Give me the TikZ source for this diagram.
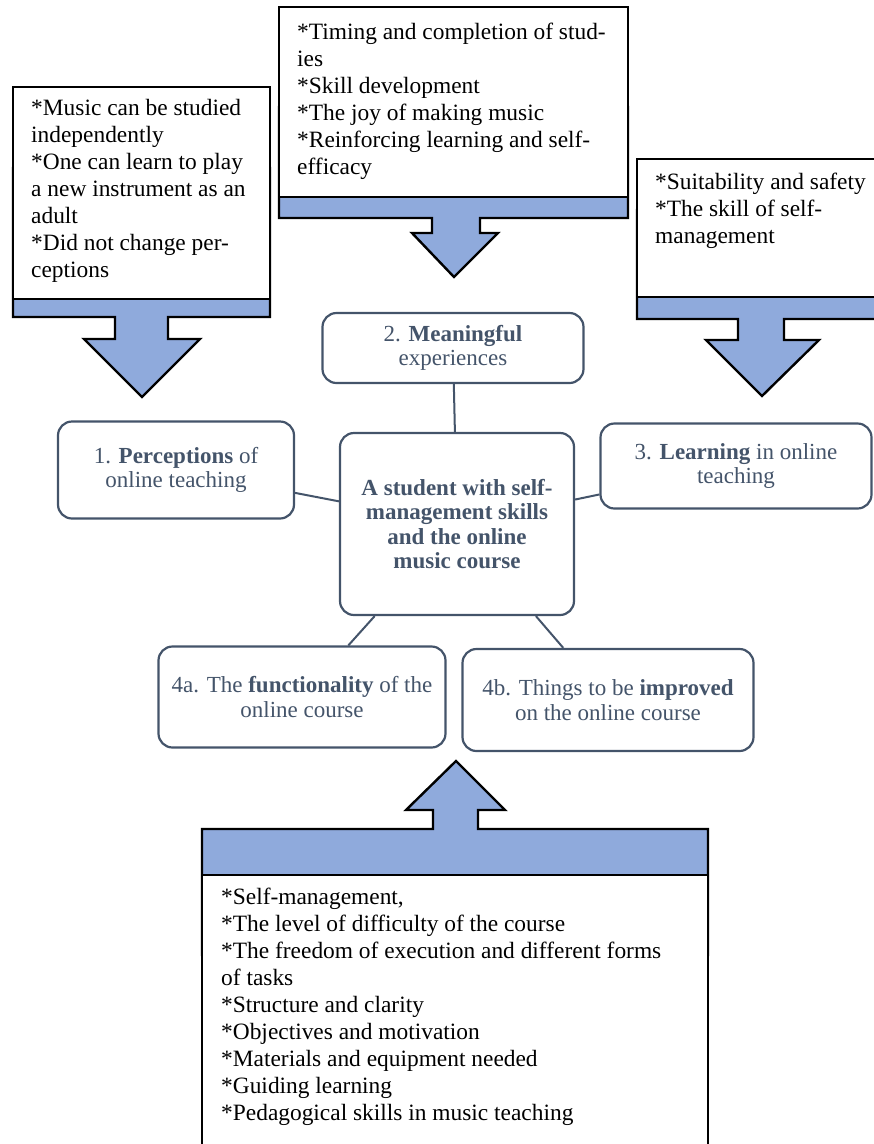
\documentclass[tikz,border=0pt]{standalone}
\usepackage{xcolor}
\usepackage{fontspec}
\setmainfont{Liberation Serif}
\usepackage{tikz}

\definecolor{slate}{RGB}{68,84,106}
\definecolor{arrowblue}{RGB}{143,170,220}

\begin{document}
\begin{tikzpicture}[x=1pt, y=-1pt,
             topic/.style={draw=slate, line width=2.2pt, rounded corners=14pt, fill=white,
                           text=slate, align=center, inner sep=0pt,
                           font=\fontsize{23}{24.5}\selectfont},
             link/.style={draw=slate, line width=2pt},
             blockarrow/.style={fill=arrowblue, draw=black, line width=2.4pt, line join=miter},
             notebox/.style={fill=white, draw=black, line width=1.2pt},
             notetext/.style={anchor=north west, align=left, inner sep=0pt,
                              font=\fontsize{23.4}{27}\selectfont}]
             \useasboundingbox (0,0) rectangle (874,1144);
             \clip (0,0) rectangle (874,1144);

             \draw[blockarrow] (13,168)--(270,168)--(270,317)--(168,317)--(168,339)--(200,339)
                  --(142,397)--(84,339)--(115,339)--(115,317)--(13,317)--cycle;
             \draw[notebox] (13,87) rectangle (270,299);
             \node[notetext] (percnotes) at (31,99) {*Music can be studied\\independently\\*One can learn to play\\a new instrument as an\\adult\\*Did not change per-\\ceptions};

             \draw[blockarrow] (279,107)--(628,107)--(628,218)--(480,218)--(480,233)--(498,233)
                  --(454,277)--(412,233)--(432,233)--(432,218)--(279,218)--cycle;
             \draw[notebox] (279,7) rectangle (628,197);
             \node[notetext] (meannotes) at (297,23) {*Timing and completion of stud-\\ies\\*Skill development\\*The joy of making music\\*Reinforcing learning and self-\\efficacy};

             \draw[blockarrow] (637,210)--(890,210)--(890,319)--(784,319)--(784,340)--(819,340)
                  --(762,396)--(706,340)--(738,340)--(738,319)--(637,319)--cycle;
             \draw[notebox] (637,159) rectangle (890,297);
             \node[notetext] (learnnotes) at (655,173) {*Suitability and safety\\*The skill of self-\\management};

             \draw[blockarrow] (202,955)--(202,829)--(433,829)--(433,810)--(406,810)--(456,761)
                  --(505,810)--(478,810)--(478,829)--(708,829)--(708,955)--cycle;
             \draw[notebox] (202,875) rectangle (708,1170);
             \node[notetext] (improvenotes) at (221,888) {*Self-management,\\*The level of difficulty of the course\\*The freedom of execution and different forms\\of tasks\\*Structure and clarity\\*Objectives and motivation\\*Materials and equipment needed\\*Guiding learning\\*Pedagogical skills in music teaching};

             \node[topic, minimum width=234pt, minimum height=182pt] (student) at (457,524)
                  {\textbf{A student with self-}\\\textbf{management skills}\\\textbf{and the online}\\\textbf{music course}};
             \node[topic, minimum width=236pt, minimum height=97pt] (perceptions) at (176,470)
                  {1. \textbf{Perceptions} of\\online teaching};
             \node[topic, minimum width=261pt, minimum height=70pt] (meaningful) at (453,348)
                  {2. \textbf{Meaningful}\\experiences};
             \node[topic, minimum width=271pt, minimum height=85pt] (learning) at (736,466)
                  {3. \textbf{Learning} in online\\teaching};
             \node[topic, minimum width=287pt, minimum height=101pt] (functionality) at (302,697)
                  {4a. The \textbf{functionality} of the\\online course};
             \node[topic, minimum width=291pt, minimum height=102pt] (improved) at (608,700)
                  {4b. Things to be \textbf{improved}\\on the online course};

             \draw[link] (meaningful) -- (student);
             \draw[link] (perceptions) -- (student);
             \draw[link] (learning) -- (student);
             \draw[link] (functionality) -- (student);
             \draw[link] (improved) -- (student);
             \end{tikzpicture}
\end{document}
